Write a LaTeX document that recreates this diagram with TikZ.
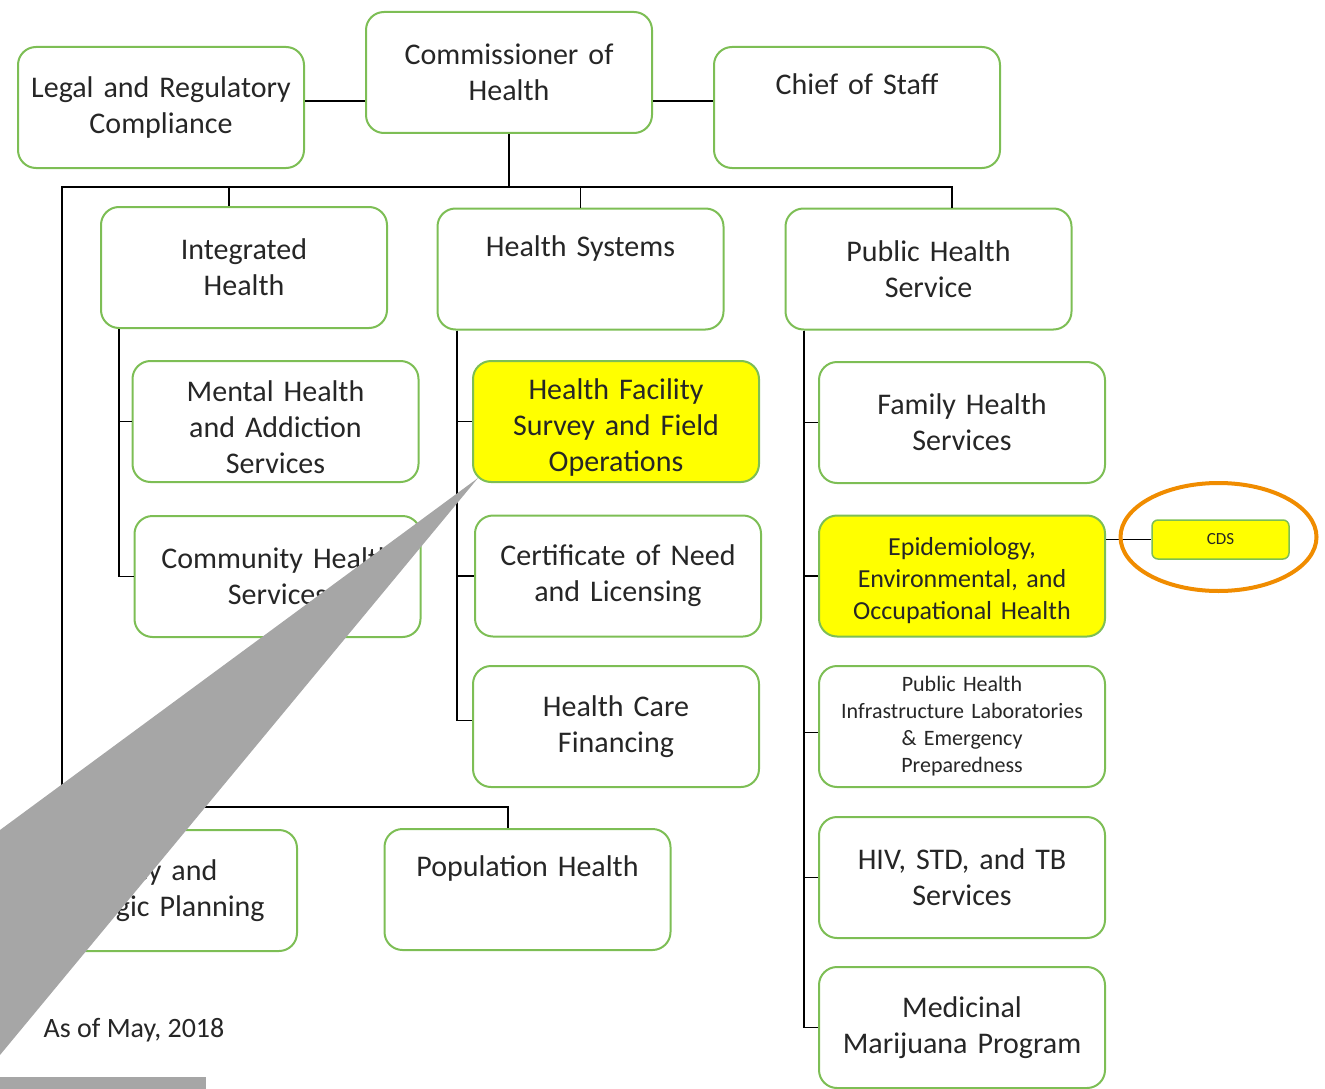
\documentclass[tikz,border=0pt]{standalone}
\usepackage{fontspec}
\setmainfont{Carlito}
\definecolor{boxgreen}{RGB}{125,190,85}
\definecolor{hilite}{RGB}{255,255,0}
\definecolor{ringorange}{RGB}{240,140,0}
\definecolor{callgray}{RGB}{166,166,166}
\definecolor{inkgray}{RGB}{38,38,38}
\begin{document}
\begin{tikzpicture}[x=1pt,y=-1pt,
	unit/.style={draw=boxgreen, line width=2pt, rounded corners=18pt, minimum width=286pt, minimum height=121pt, text width=276pt, align=center, inner sep=0pt, text=inkgray, font=\fontsize{30}{36}\selectfont},
	hot/.style={unit, fill=hilite},
	link/.style={black, line width=1.8pt}]
	\useasboundingbox (0,0) rectangle (1325,1089);
	\node[unit] (legal) at (161,107.5) {Legal and Regulatory\\Compliance};
	\node[unit] (comm) at (509,72.5) {Commissioner of\\Health};
	\node[unit] (chief) at (857,107.5) {Chief of Staff\\\strut};
	\node[unit] (integ) at (244,267.5) {Integrated\\Health};
	\node[unit] (hsys) at (580.5,269) {Health Systems\\\strut};
	\node[unit] (phs) at (928.5,269) {Public Health\\Service};
	\node[unit] (mental) at (275.5,421.5) {\rule{0pt}{32pt}Mental Health\\and Addiction\\Services};
	\node[unit] (commh) at (277.5,576.5) {Community Health\\Services};
	\node[hot] (hfac) at (616,421.5) {\rule{0pt}{32pt}Health Facility\\Survey and Field\\Operations};
	\node[unit] (cert) at (618,576) {Certificate of Need\\and Licensing};
	\node[unit] (hcf) at (616,726.5) {Health Care\\Financing};
	\node[unit] (family) at (962,422.5) {Family Health\\Services};
	\node[hot, font=\fontsize{26}{32}\selectfont] (epi) at (962,576) {\rule{0pt}{28pt}Epidemiology,\\Environmental, and\\Occupational Health};
	\node[unit, font=\fontsize{22}{27}\selectfont] (phil) at (962,726.5) {Public Health\\Infrastructure Laboratories\\\& Emergency\\Preparedness};
	\node[unit] (hiv) at (962,877.5) {HIV, STD, and TB\\Services};
	\node[unit] (med) at (962,1027.5) {Medicinal\\Marijuana Program};
	\node[unit] (policy) at (154,890.5) {Policy and\\Strategic Planning};
	\node[unit] (pop) at (527.5,889.5) {Population Health\\\strut};
	\node[hot, minimum width=137pt, minimum height=39pt, text width=130pt, rounded corners=6pt, line width=1.5pt, font=\fontsize{17}{20}\selectfont] (cds) at (1220.5,539.5) {CDS};
	\node[text=inkgray, font=\fontsize{28}{34}\selectfont] (stamp) at (134,1030) {As of May, 2018};
	\coordinate (hline) at (0,101);
	\coordinate (busL) at (62,187);
	\coordinate (busR) at (952,187);
	\coordinate (busB) at (62,807);
	\coordinate (busBR) at (508,807);
	\coordinate (dropI) at (229,187);
	\coordinate (stemI) at (119,0);
	\coordinate (stemH) at (457,0);
	\coordinate (stemP) at (804,0);
	\draw[link] (legal.east |- hline) -- (comm.west |- hline);
	\draw[link] (comm.east |- hline) -- (chief.west |- hline);
	\draw[link] (comm.south) -- (comm.south |- busL);
	\draw[link] (busB) -- (busL) -- (busR) -- (busR |- phs.north);
	\draw[link] (dropI) -- (dropI |- integ.north);
	\draw[link] (hsys.north) -- (hsys.north |- busL);
	\draw[link] (busB) -- (busBR) -- (busBR |- pop.north);
	\draw[link] (policy.north) -- (policy.north |- busB);
	\foreach \kid in {mental,commh}
		\draw[link] (stemI |- integ.south) |- (\kid.west);
	\foreach \kid in {hfac,cert}
		\draw[link] (stemH |- hsys.south) |- (\kid.west);
	\draw[link] (stemH |- hsys.south) |- ([yshift=6pt]hcf.west);
	\foreach \kid in {family,epi,hiv,med}
		\draw[link] (stemP |- phs.south) |- (\kid.west);
	\draw[link] (stemP |- phs.south) |- ([yshift=-6pt]phil.west);
	\draw[link, line width=1.5pt] (epi.east |- cds.west) -- (cds.west);
	\draw[ringorange, line width=4pt] (1218.5,537) ellipse [x radius=98, y radius=54];
	\fill[callgray] (478,478) -- (0,830) -- (0,1055) -- cycle;
	\fill[callgray] (0,1077) rectangle (206,1089);
\end{tikzpicture}
\end{document}
